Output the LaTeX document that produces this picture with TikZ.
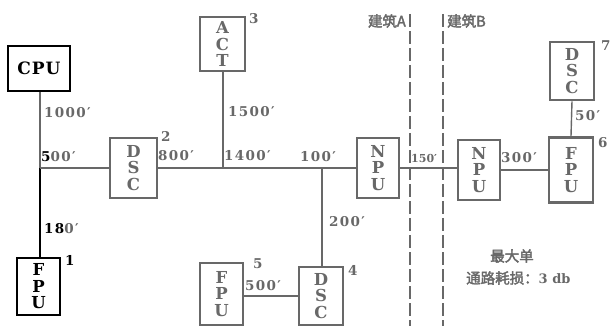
\documentclass[tikz,border=0pt]{standalone}
\usepackage{fontspec}
\setmainfont{DejaVu Serif}
\newfontfamily\cjk[FakeBold=2.5]{Noto Sans CJK SC}
\definecolor{gc}{HTML}{686868}
\newcommand{\boxfont}{\bfseries\fontsize{16.5}{16.5}\selectfont}
\newcommand{\labfont}{\bfseries\fontsize{13.5}{14}\selectfont\addfontfeature{LetterSpace=10}}
\begin{document}
\begin{tikzpicture}[x=1pt,y=-1pt,
  unit/.style={draw=gc, text=gc, line width=2.6pt, inner sep=0pt, align=center, font=\boxfont},
  unitk/.style={unit, draw=black, text=black},
  wire/.style={draw=gc, line width=1.4pt},
  wirek/.style={draw=black, line width=1.4pt},
  lab/.style={text=gc, font=\labfont, anchor=west, inner sep=0pt},
  bline/.style={draw=gc, line width=1.3pt, dash pattern=on 13pt off 4pt},
  cjklab/.style={text=gc, font=\cjk\fontsize{14.5}{20}\selectfont, inner sep=0pt}]
\useasboundingbox (0,0) rectangle (611,326);
% units
\node[unitk, minimum width=62pt, minimum height=45pt, font=\bfseries\fontsize{17}{18}\selectfont\addfontfeature{LetterSpace=6}] (cpu) at (39,68.5) {CPU};
\node[unitk, minimum width=43pt, minimum height=57pt] (fpu1) at (38.5,286.5) {F\\P\\U};
\node[unit, minimum width=47pt, minimum height=60pt] (dsc2) at (133.5,168) {D\\S\\C};
\node[unit, minimum width=45pt, minimum height=54pt] (act3) at (222.5,44) {A\\C\\T};
\node[unit, minimum width=42pt, minimum height=60pt] (npua) at (378,168) {N\\P\\U};
\node[unit, minimum width=44pt, minimum height=58pt] (dsc4) at (321,296) {D\\S\\C};
\node[unit, minimum width=43pt, minimum height=62pt] (fpu5) at (221.5,294) {F\\P\\U};
\node[unit, minimum width=42pt, minimum height=60pt] (npub) at (479,170) {N\\P\\U};
\node[unit, minimum width=44pt, minimum height=65pt] (fpu6) at (571,170) {F\\P\\U};
\node[unit, minimum width=44pt, minimum height=58pt] (dsc7) at (572,71) {D\\S\\C};
% junctions
\coordinate (j1) at (40,168);
\coordinate (j3) at (223,168);
\coordinate (j4) at (322,168);
% connectors
\draw[wire] (cpu.south -| j1) -- (j1);
\draw[wirek] (j1) -- (j1 |- fpu1.north);
\draw[wirek] (j1) -- ++(20,0);
\draw[wire] (j1) -- (dsc2.west |- j1);
\draw[wire] (dsc2.east |- j1) -- (j3) -- (j4) -- (npua.west |- j4);
\draw[wire] (j3) -- (act3.south -| j3);
\draw[wire] (j4) -- (dsc4.north -| j4);
\draw[wire] (dsc4.west) -- (dsc4.west -| fpu5.east);
\draw[wire] (npua.east) -- (npua.east -| npub.west);
\draw[wire] (npub.east) -- (npub.east -| fpu6.west);
\draw[wire] (dsc7.south) -- (fpu6.north);
% building boundaries
\coordinate (ba) at (410,14);
\coordinate (bb) at (443,14);
\draw[bline] (ba) -- (ba |- 0,326);
\draw[bline] (bb) -- (bb |- 0,326);
\node[cjklab, anchor=east] (la) at (406,21) {建筑A};
\node[cjklab, anchor=west] (lb) at (447,21) {建筑B};
% labels
\node[lab] (l1000) at (44,113) {1000′};
\node[lab] (l500a) at (41,157) {\textcolor{black}{5}00′};
\node[lab] (l180) at (44,229) {\textcolor{black}{18}0′};
\node[lab, text=black] (n1) at (65,260) {1};
\node[lab] (l1500) at (228,112) {1500′};
\node[lab] (n2) at (161,136) {2};
\node[lab] (l800) at (158,156) {800′};
\node[lab] (l1400) at (224,156) {1400′};
\node[lab] (n3) at (249,19) {3};
\node[lab] (l100) at (300,157) {100′};
\node[lab] (l200) at (329,222) {200′};
\node[lab] (n4) at (348,270) {4};
\node[lab] (n5) at (253,264) {5};
\node[lab] (l500b) at (245,286) {500′};
\node[lab, font=\bfseries\fontsize{11}{12}\selectfont] (l150) at (411,158) {150′};
\node[lab] (l300) at (501,158) {300′};
\node[lab] (n6) at (598,143) {6};
\node[lab] (l50) at (575,116) {50′};
\node[lab] (n7) at (601,46) {7};
\node[cjklab] (t1) at (512,256) {最大单};
\node[cjklab, anchor=west] (t2) at (466,278) {通路耗损：\textrm{\bfseries\fontsize{13}{14}\selectfont 3 db}};
\end{tikzpicture}
\end{document}
